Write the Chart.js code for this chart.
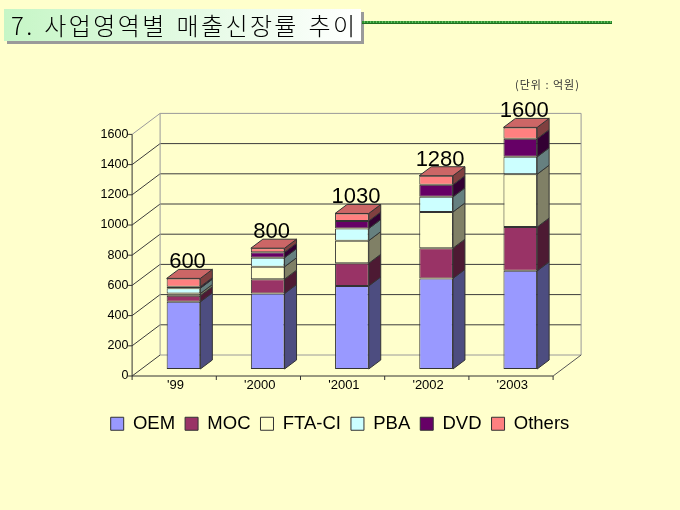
<!DOCTYPE html>
<html>
<head>
<meta charset="utf-8">
<script src="https://cdn.jsdelivr.net/npm/chart.js@4.4.1/dist/chart.umd.min.js"></script>
<style>
  html, body { margin: 0; padding: 0; background: #ffffcc; }
  #wrap { position: relative; width: 680px; height: 510px; overflow: hidden; }
  #chart { position: absolute; left: 0; top: 0; }
  .title {
    position: absolute; left: 4px; top: 9px; width: 357px; height: 32px;
    box-sizing: border-box; padding-left: 7px;
    background: linear-gradient(to right, #c6f6c6, #ffffff);
    box-shadow: 3px 3px 0 #9a9a9a;
    font: 300 24px "Noto Sans CJK KR", sans-serif; letter-spacing: 2.4px; word-spacing: 2px;
    line-height: 32px; color: #000; white-space: nowrap;
  }
  .rule {
    position: absolute; left: 362px; top: 21px; width: 250px; height: 3px;
    background: repeating-linear-gradient(to right, #2f8f2f 0 2px, #5fbf5f 2px 3px);
    border-bottom: 1px solid #1f6f1f; box-sizing: border-box;
  }
  .unit {
    position: absolute; left: 515px; top: 76px;
    font: 11px "Noto Sans CJK KR", sans-serif; letter-spacing: 1px; color: #333; white-space: nowrap;
  }
</style>
</head>
<body>
<div id="wrap">
  <canvas id="chart" width="680" height="510"></canvas>
  <div class="title">7. 사업영역별 매출신장률 추이</div>
  <div class="rule"></div>
  <div class="unit">(단위 : 억원)</div>
</div>
<script>
var categories = ["'99", "'2000", "'2001", "'2002", "'2003"];
var seriesNames = ["OEM", "MOC", "FTA-CI", "PBA", "DVD", "Others"];
var oem = [445, 500, 550, 600, 650];
var moc = [40, 95, 150, 200, 290];
var fta = [15, 82, 150, 240, 350];
var pba = [35, 60, 80, 100, 115];
var dvd = [10, 36, 50, 80, 120];
var others = [55, 27, 50, 60, 75];
var yTicks = [0, 200, 400, 600, 800, 1000, 1200, 1400, 1600];

var colors = ["#9999ff", "#993366", "#ffffcc", "#ccffff", "#660066", "#ff8080"];

// 3D look: floor front -> back wall, floor front -> bar front, bar depth
var WALL = { dx: 28, dy: -21 };
var FRONT = { dx: 9.3, dy: -7 };
var BAR = { dx: 12, dy: -9 };

function shade(hex, f) {
  var n = parseInt(hex.slice(1), 16);
  var r = Math.round(((n >> 16) & 255) * f);
  var g = Math.round(((n >> 8) & 255) * f);
  var b = Math.round((n & 255) * f);
  return "rgb(" + r + "," + g + "," + b + ")";
}

function line(ctx, x1, y1, x2, y2, color) {
  ctx.strokeStyle = color;
  ctx.beginPath();
  ctx.moveTo(x1, y1);
  ctx.lineTo(x2, y2);
  ctx.stroke();
}

var frame3d = {
  id: "frame3d",
  beforeDatasetsDraw: function (chart) {
    var ctx = chart.ctx, a = chart.chartArea, ys = chart.scales.y;
    var fx = a.left - FRONT.dx;
    var bx = fx + WALL.dx;
    var fr = a.right - FRONT.dx;
    var rx = fr + WALL.dx;
    var top = yTicks[yTicks.length - 1];
    function fy(v) { return ys.getPixelForValue(v) - FRONT.dy; }
    function by(v) { return fy(v) + WALL.dy; }
    ctx.save();
    ctx.lineWidth = 1;
    yTicks.forEach(function (v, i) {
      var c = (i === 0 || v === top) ? "#9a9a9a" : "#3c3c3c";
      line(ctx, fx, fy(v), bx, by(v), v === top ? "#9a9a9a" : "#3c3c3c");
      line(ctx, bx, by(v), rx, by(v), c);
      line(ctx, fx - 4, fy(v), fx, fy(v), "#333");
    });
    line(ctx, bx, by(0), bx, by(top), "#9a9a9a");
    line(ctx, rx, by(0), rx, by(top), "#9a9a9a");
    line(ctx, fr, fy(0), rx, by(0), "#555");
    line(ctx, fx, fy(0), fx, fy(top), "#333");
    line(ctx, fx, fy(0), fr, fy(0), "#333");
    for (var k = 0; k <= categories.length; k++) {
      var x = fx + k * (fr - fx) / categories.length;
      line(ctx, x, fy(0), x, fy(0) + 4, "#333");
    }
    ctx.restore();
  },
  afterDatasetsDraw: function (chart) {
    var ctx = chart.ctx;
    var n = chart.data.datasets.length;
    ctx.save();
    ctx.lineWidth = 1;
    ctx.strokeStyle = "#333";
    for (var d = 0; d < n; d++) {
      var meta = chart.getDatasetMeta(d);
      var base = colors[d];
      meta.data.forEach(function (el) {
        var p = el.getProps(["x", "y", "base", "width"], true);
        var l = p.x - p.width / 2, r = p.x + p.width / 2;
        ctx.fillStyle = shade(base, 0.5);
        ctx.beginPath();
        ctx.moveTo(r, p.y);
        ctx.lineTo(r + BAR.dx, p.y + BAR.dy);
        ctx.lineTo(r + BAR.dx, p.base + BAR.dy);
        ctx.lineTo(r, p.base);
        ctx.closePath();
        ctx.fill();
        ctx.stroke();
        if (d === n - 1) {
          ctx.fillStyle = shade(base, 0.8);
          ctx.beginPath();
          ctx.moveTo(l, p.y);
          ctx.lineTo(l + BAR.dx, p.y + BAR.dy);
          ctx.lineTo(r + BAR.dx, p.y + BAR.dy);
          ctx.lineTo(r, p.y);
          ctx.closePath();
          ctx.fill();
          ctx.stroke();
        }
      });
    }
    // totals over each bar
    var last = chart.getDatasetMeta(n - 1);
    ctx.fillStyle = "#000";
    ctx.font = '22px "Liberation Sans", Arial, sans-serif';
    ctx.textAlign = "center";
    ctx.textBaseline = "alphabetic";
    last.data.forEach(function (el, i) {
      var p = el.getProps(["x", "y"], true);
      var total = 0;
      chart.data.datasets.forEach(function (ds) { total += ds.data[i]; });
      ctx.fillText(String(total), p.x + 4, p.y + BAR.dy - 1);
    });
    ctx.restore();
  }
};

var series = [oem, moc, fta, pba, dvd, others];

new Chart(document.getElementById("chart"), {
  type: "bar",
  data: {
    labels: categories,
    datasets: series.map(function (vals, i) {
      return {
        label: seriesNames[i],
        data: vals,
        backgroundColor: colors[i],
        borderColor: "#333",
        borderWidth: 1,
        borderSkipped: false,
        barPercentage: 0.4,
        categoryPercentage: 1
      };
    })
  },
  options: {
    responsive: false,
    animation: false,
    devicePixelRatio: 1,
    layout: { padding: { left: 0, right: 0, top: 127.4, bottom: 67 } },
    scales: {
      x: {
        stacked: true,
        grid: { display: false, drawTicks: false },
        border: { display: false },
        ticks: {
          color: "#000",
          padding: 9,
          labelOffset: -8,
          font: { family: '"Liberation Sans", Arial, sans-serif', size: 13 }
        },
        afterFit: function (s) { s.height = 35.5; }
      },
      y: {
        stacked: true,
        min: 0,
        max: 1600,
        grid: { display: false, drawTicks: false },
        border: { display: false },
        ticks: {
          stepSize: 200,
          color: "#000",
          padding: 13,
          labelOffset: 7,
          font: { family: '"Liberation Sans", Arial, sans-serif', size: 12.5 },
          callback: function (v) { return String(v); }
        },
        afterFit: function (s) { s.width = 141.4; }
      },
      y2: {
        position: "right",
        grid: { display: false, drawTicks: false },
        border: { display: false },
        ticks: { display: false },
        afterFit: function (s) { s.width = 117.6; }
      }
    },
    plugins: {
      legend: {
        position: "bottom",
        labels: {
          color: "#000",
          boxWidth: 13,
          boxHeight: 13,
          padding: 10,
          font: { family: '"Liberation Sans", Arial, sans-serif', size: 18.5 }
        }
      },
      tooltip: { enabled: false }
    }
  },
  plugins: [frame3d]
});
</script>
</body>
</html>
